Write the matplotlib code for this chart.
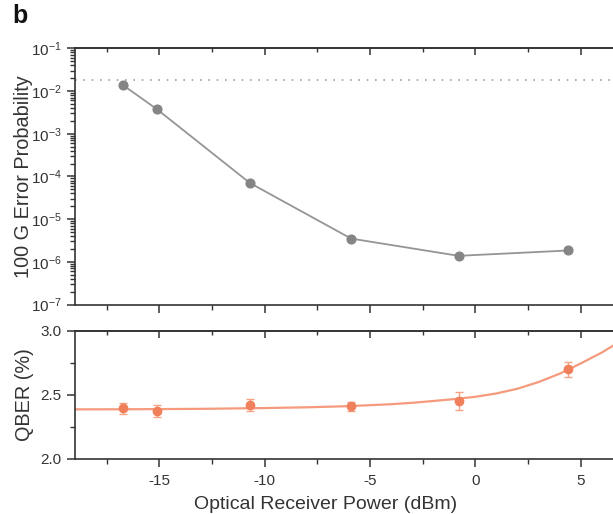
import matplotlib
matplotlib.use("Agg")
import matplotlib.pyplot as plt
from matplotlib.ticker import MultipleLocator, LogLocator, NullFormatter, FixedLocator

plt.rcParams['font.family'] = ['Liberation Sans', 'DejaVu Sans']
plt.rcParams['mathtext.default'] = 'regular'
plt.rcParams['axes.unicode_minus'] = False

# ---- data ----
power_dbm = [-16.7, -15.1, -10.7, -5.9, -0.8, 4.4]
error_prob = [1.35e-2, 3.7e-3, 7.0e-5, 3.5e-6, 1.38e-6, 1.84e-6]
threshold = 1.8e-2
qber = [2.395, 2.374, 2.423, 2.413, 2.452, 2.699]
qber_err = [0.045, 0.05, 0.045, 0.035, 0.07, 0.057]
fit_x = [-19, -16, -13, -10, -8, -6, -4, -3, -2, -1, 0, 1, 2, 3, 4, 5, 6, 7]
fit_y = [2.387, 2.388, 2.391, 2.397, 2.403, 2.412, 2.427, 2.438, 2.452, 2.467,
         2.485, 2.511, 2.548, 2.600, 2.665, 2.745, 2.830, 2.930]
x_major = [-15, -10, -5, 0, 5]
panel_label = 'b'

TXT = '#333333'
SP = '#333333'
GRAY = '#858585'
SALMON = '#F0805C'
SALMON_L = '#F5A385'

fig = plt.figure(figsize=(6.13, 5.14), dpi=100)
fig.patch.set_facecolor('white')

L, W = 75 / 613, 569 / 613
ax1 = fig.add_axes([L, 1 - 304.5 / 514, W, (304.5 - 48.3) / 514])
ax2 = fig.add_axes([L, 1 - 459 / 514, W, (459 - 330.7) / 514])

for ax in (ax1, ax2):
    ax.set_xlim(-19, 8)
    for s in ax.spines.values():
        s.set_color(SP)
        s.set_linewidth(1.2)
    ax.xaxis.set_major_locator(FixedLocator(x_major))
    ax.xaxis.set_minor_locator(MultipleLocator(2.5))
    ax.tick_params(axis='both', which='major', direction='out', length=6, width=1.1,
                   color=SP, labelcolor=TXT, labelsize=11)
    ax.tick_params(axis='both', which='minor', direction='out', length=3.5, width=1.0,
                   color=SP)
    ax.tick_params(axis='x', which='major', pad=5)
    sec = ax.secondary_xaxis('top')
    sec.xaxis.set_major_locator(FixedLocator(x_major))
    sec.xaxis.set_minor_locator(MultipleLocator(2.5))
    sec.tick_params(which='major', direction='in', length=5, width=1.1, color=SP,
                    labeltop=False)
    sec.tick_params(which='minor', direction='in', length=3, width=1.0, color=SP)
    sec.spines['top'].set_color(SP)
    sec.spines['top'].set_linewidth(1.2)

# ---- top panel ----
ax1.set_yscale('log')
ax1.set_ylim(1e-7, 1e-1)
ax1.yaxis.set_major_locator(LogLocator(base=10, numticks=10))
ax1.yaxis.set_minor_locator(LogLocator(base=10, subs=[2, 3, 4, 5, 6, 7, 8, 9], numticks=20))
ax1.yaxis.set_minor_formatter(NullFormatter())
ax1.tick_params(axis='x', labelbottom=False)
ax1.axhline(threshold, color='#a0a0a0', lw=1.2, ls=(0, (1, 4.0)))
ax1.plot(power_dbm, error_prob, color='#959595', lw=1.3, marker='o', ms=6.3,
         mfc=GRAY, mec=GRAY, zorder=3)
ax1.set_ylabel('100 G Error Probability', fontsize=14.3, color=TXT)
ax1.yaxis.set_label_coords(-(75 - 33) / 569, 0.5)

# ---- bottom panel ----
ax2.set_ylim(2.0, 3.0)
ax2.set_yticks([2.0, 2.5, 3.0])
ax2.set_yticklabels(['2.0', '2.5', '3.0'])
ax2.yaxis.set_minor_locator(FixedLocator([2.25, 2.75]))
ax2.plot(fit_x, fit_y, color='#F59A7C', lw=1.6, zorder=2)
ax2.errorbar(power_dbm, qber, yerr=qber_err, fmt='none', ecolor=SALMON_L,
             elinewidth=1.0, capsize=3.2, capthick=1.0, zorder=3)
ax2.plot(power_dbm, qber, ls='none', marker='o', ms=6.0, mfc=SALMON, mec=SALMON, zorder=4)
ax2.set_ylabel('QBER (%)', fontsize=14.3, color=TXT)
ax2.yaxis.set_label_coords(-(75 - 34) / 569, 0.5)
ax2.set_xlabel('Optical Receiver Power (dBm)', fontsize=14, color=TXT)
ax2.xaxis.set_label_coords((326 - 75) / 569, -0.285)

fig.text(12 / 613, 1 - 4 / 514, panel_label, fontsize=18, fontweight='bold',
         va='top', ha='left', color='#111111')

fig.savefig('out.png', dpi=100, facecolor='white')
